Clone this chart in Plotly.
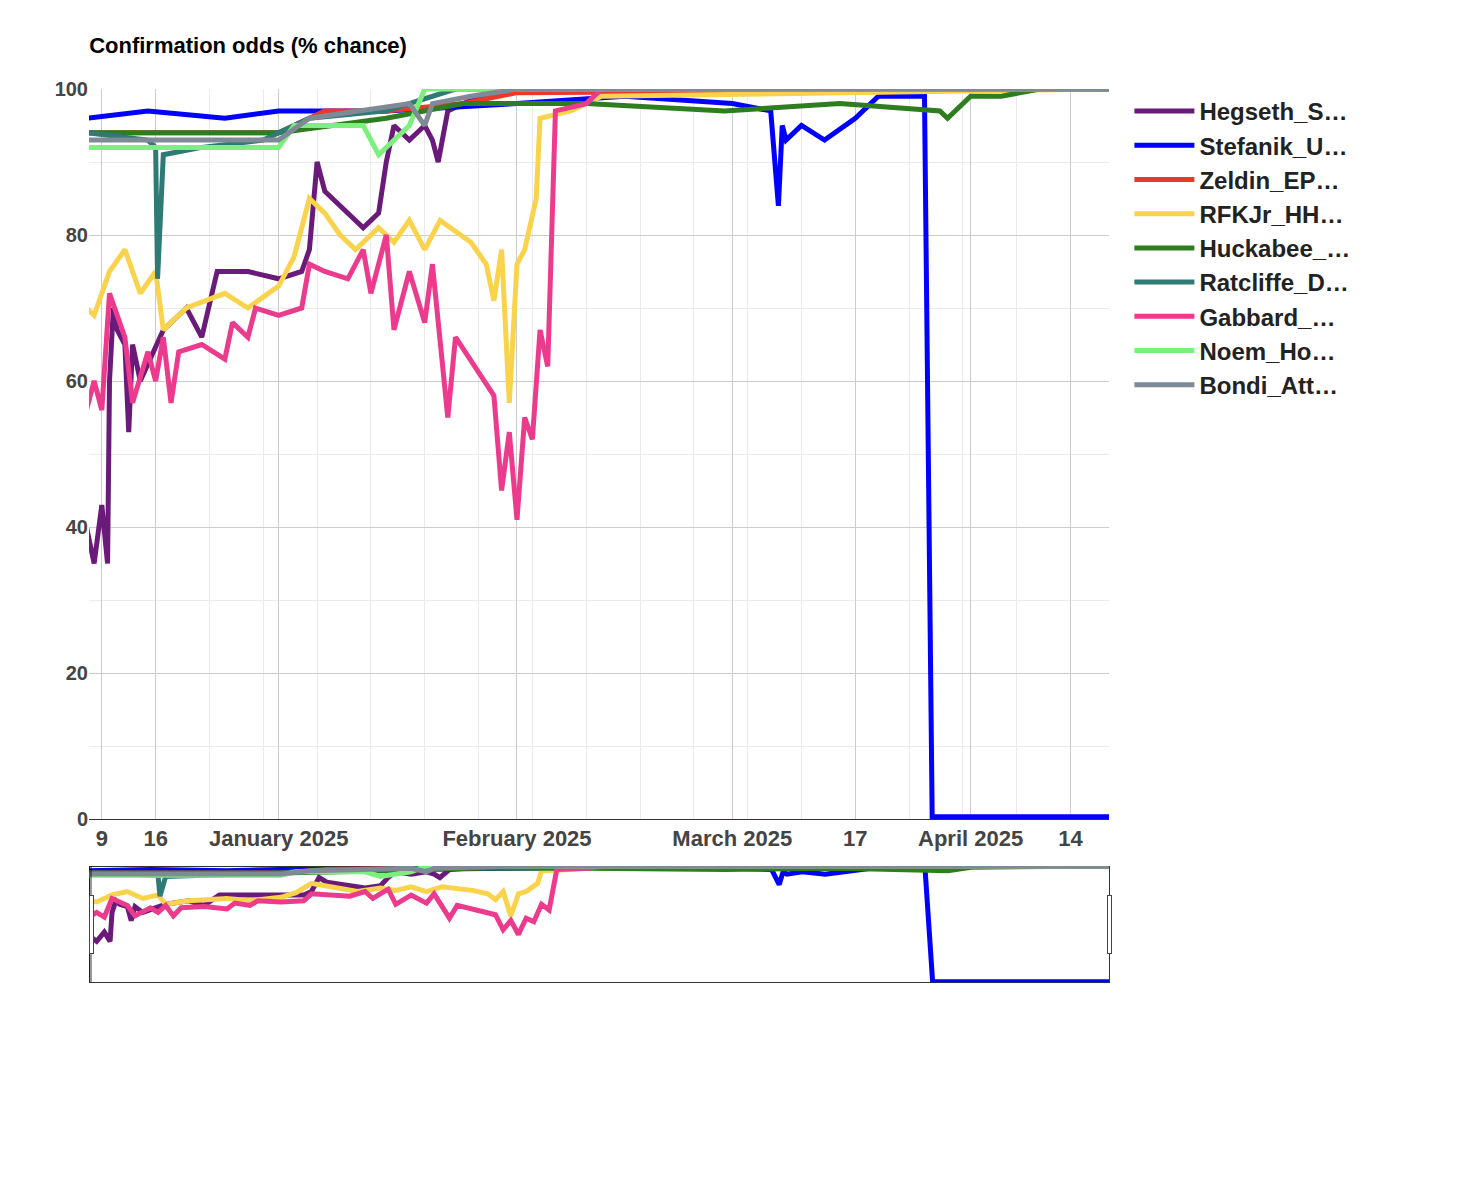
import plotly.graph_objects as go

END = "2025-04-19"

hegseth_x = ["2024-12-07", "2024-12-08", "2024-12-09", "2024-12-09 18:00", "2024-12-10", "2024-12-10 12:00", "2024-12-11",
             "2024-12-12", "2024-12-12 12:00", "2024-12-13", "2024-12-14", "2024-12-17", "2024-12-20", "2024-12-22",
             "2024-12-24", "2024-12-28", "2025-01-01", "2025-01-04", "2025-01-05", "2025-01-06", "2025-01-07",
             "2025-01-10", "2025-01-12", "2025-01-14", "2025-01-15", "2025-01-16", "2025-01-18", "2025-01-20",
             "2025-01-21", "2025-01-21 18:00", "2025-01-23", "2025-01-27", "2025-01-31", END]
hegseth_y = [40, 35, 43, 35, 60, 70, 67, 65, 53, 65, 60, 67, 70, 66, 75, 75, 74, 75, 78, 90, 86, 83, 81, 83, 90,
             95, 93, 95, 93, 90, 97, 99, 100, 100]

stefanik_x = ["2024-12-07", "2024-12-15", "2024-12-25", "2025-01-01", "2025-01-15", "2025-02-01", "2025-02-15",
              "2025-03-01", "2025-03-06", "2025-03-07", "2025-03-07 12:00", "2025-03-08", "2025-03-10",
              "2025-03-13", "2025-03-17", "2025-03-20", "2025-03-26", "2025-03-26 12:00", "2025-03-27", END]
stefanik_y = [96, 97, 96, 97, 97, 98, 99, 98, 97, 84, 95, 93, 95, 93, 96, 99, 99, 50, 0.3, 0.3]

zeldin_x = ["2024-12-07", "2024-12-20", "2025-01-01", "2025-01-07", "2025-01-15", "2025-01-25", "2025-02-01", END]
zeldin_y = [94, 94, 94, 97, 97, 98, 99.5, 100]

rfk_x = ["2024-12-07", "2024-12-08", "2024-12-10", "2024-12-12", "2024-12-14", "2024-12-16", "2024-12-17",
         "2024-12-20", "2024-12-25", "2024-12-28", "2025-01-01", "2025-01-03", "2025-01-05", "2025-01-07",
         "2025-01-09", "2025-01-11", "2025-01-14", "2025-01-16", "2025-01-18", "2025-01-20", "2025-01-22",
         "2025-01-26", "2025-01-28", "2025-01-29", "2025-01-30", "2025-01-31", "2025-02-01", "2025-02-02",
         "2025-02-03 12:00", "2025-02-04", "2025-02-08", "2025-02-12", END]
rfk_y = [70, 69, 75, 78, 72, 75, 67, 70, 72, 70, 73, 77, 85, 83, 80, 78, 81, 79, 82, 78, 82, 79, 76, 71, 78, 57,
         76, 78, 85, 96, 97, 99, 100]

huckabee_x = ["2024-12-07", "2025-01-01", "2025-01-15", "2025-01-25", "2025-02-10", "2025-02-28", "2025-03-15",
              "2025-03-28", "2025-03-29", "2025-04-01", "2025-04-05", "2025-04-10", END]
huckabee_y = [94, 94, 96, 98, 98, 97, 98, 97, 96, 99, 99, 100, 100]

ratcliffe_x = ["2024-12-07", "2024-12-15", "2024-12-16", "2024-12-16 06:00", "2024-12-17", "2024-12-22",
               "2024-12-30", "2025-01-05", "2025-01-15", "2025-01-24", END]
ratcliffe_y = [94, 93, 92, 74, 91, 92, 93, 96, 97, 100, 100]

gabbard_x = ["2024-12-07", "2024-12-08", "2024-12-09", "2024-12-10", "2024-12-12", "2024-12-13", "2024-12-15",
             "2024-12-16", "2024-12-17", "2024-12-18", "2024-12-19", "2024-12-22", "2024-12-25", "2024-12-26",
             "2024-12-28", "2024-12-29", "2025-01-01", "2025-01-04", "2025-01-05", "2025-01-07", "2025-01-10",
             "2025-01-12", "2025-01-13", "2025-01-15", "2025-01-16", "2025-01-18", "2025-01-20", "2025-01-21",
             "2025-01-23", "2025-01-24", "2025-01-29", "2025-01-30", "2025-01-31", "2025-02-01", "2025-02-02",
             "2025-02-03", "2025-02-04", "2025-02-05", "2025-02-06", "2025-02-10", "2025-02-12", END]
gabbard_y = [56, 60, 56, 72, 66, 57, 64, 60, 66, 57, 64, 65, 63, 68, 66, 70, 69, 70, 76, 75, 74, 78, 72, 80, 67,
             75, 68, 76, 55, 66, 58, 45, 53, 41, 55, 52, 67, 62, 97, 98, 100, 100]

noem_x = ["2024-12-07", "2025-01-01", "2025-01-03", "2025-01-12", "2025-01-14", "2025-01-18", "2025-01-20", END]
noem_y = [92, 92, 95, 95, 91, 95, 100, 100]

bondi_x = ["2024-12-07", "2025-01-01", "2025-01-05", "2025-01-12", "2025-01-18", "2025-01-20", "2025-01-21",
           "2025-01-26", "2025-02-01", END]
bondi_y = [93, 93, 96, 97, 98, 95, 98, 99, 100, 100]

tick_dates = ["2024-12-09", "2024-12-16", "2025-01-01", "2025-02-01", "2025-03-01", "2025-03-17",
              "2025-04-01", "2025-04-14"]
tick_labels = ["9", "16", "January 2025", "February 2025", "March 2025", "17", "April 2025", "14"]

series = [
    ("Hegseth_S…", hegseth_x, hegseth_y, "#6a1b7a"),
    ("Stefanik_U…", stefanik_x, stefanik_y, "#0000ff"),
    ("Zeldin_EP…", zeldin_x, zeldin_y, "#e8392b"),
    ("RFKJr_HH…", rfk_x, rfk_y, "#f9d34c"),
    ("Huckabee_…", huckabee_x, huckabee_y, "#2e7d1f"),
    ("Ratcliffe_D…", ratcliffe_x, ratcliffe_y, "#2e7b76"),
    ("Gabbard_…", gabbard_x, gabbard_y, "#ec3b8c"),
    ("Noem_Ho…", noem_x, noem_y, "#7cf07c"),
    ("Bondi_Att…", bondi_x, bondi_y, "#7f8a96"),
]

fig = go.Figure()
for name, xs, ys, color in series:
    fig.add_trace(go.Scatter(x=xs, y=ys, name="<b>" + name + "</b>", mode="lines",
                             line=dict(color=color, width=5)))

fig.update_layout(
    width=1475, height=1200,
    margin=dict(l=81, r=374, t=81, b=225),
    plot_bgcolor="white", paper_bgcolor="white",
    font=dict(family="Arial, Liberation Sans", size=22, color="#444"),
    title=dict(text="<b>Confirmation odds (% chance)</b>", x=0.055, xanchor="left", y=0.975,
               font=dict(size=22, color="black")),
    legend=dict(x=1.02, y=1.0, yanchor="top", font=dict(size=24, color="#222"), itemwidth=60),
    showlegend=True,
)
fig.update_yaxes(range=[0, 100], dtick=20, gridcolor="#cccccc", tickfont=dict(size=20, color="#444"),
                 tickprefix="<b>", ticksuffix="</b>",
                 minor=dict(dtick=10, showgrid=True, gridcolor="#ebebeb"), zeroline=False,
                 showline=False, ticks="")
fig.update_xaxes(range=["2024-12-07 08:00", END], tickvals=tick_dates,
                 ticktext=["<b>" + t + "</b>" for t in tick_labels],
                 gridcolor="#cccccc", showline=True, linecolor="#333",
                 minor=dict(dtick=7 * 86400000, showgrid=True, gridcolor="#ebebeb", tick0="2024-12-09"),
                 tickfont=dict(size=22, color="#444"),
                 rangeslider=dict(visible=True, thickness=0.13, bordercolor="#333", borderwidth=1))
fig.write_html("out.html")
